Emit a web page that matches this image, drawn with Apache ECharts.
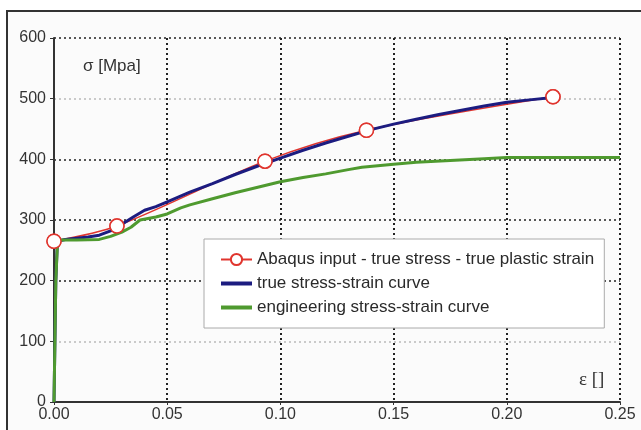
<!DOCTYPE html>
<html>
<head>
<meta charset="utf-8">
<script src="https://cdn.jsdelivr.net/npm/echarts@6/dist/echarts.min.js"></script>
<style>
  html, body { margin: 0; padding: 0; background: #fff; }
  #chart { width: 641px; height: 430px; }
</style>
</head>
<body>
<div id="chart"></div>
<script>
// Abaqus input points (true stress vs true plastic strain)
var abaqusStrain = [0, 0.0278, 0.0932, 0.138, 0.2204];
var abaqusStress = [265, 290, 397, 448, 503];

// true stress-strain curve
var trueStrain = [0, 0.0008, 0.0015, 0.005, 0.01, 0.015, 0.02, 0.025, 0.03, 0.035, 0.04, 0.045, 0.05, 0.06, 0.07, 0.08, 0.09, 0.1, 0.11, 0.12, 0.13, 0.14, 0.15, 0.16, 0.17, 0.18, 0.19, 0.2, 0.21, 0.2204];
var trueStress = [0, 200, 265, 268, 270, 272, 275, 282, 293, 305, 316, 322, 330, 346, 360, 375, 389, 402, 415, 427, 438, 449, 458, 466, 474, 481, 488, 494, 498, 502];

// engineering stress-strain curve
var engStrain = [0, 0.0008, 0.0015, 0.003, 0.01, 0.02, 0.025, 0.03, 0.034, 0.038, 0.045, 0.05, 0.056, 0.06, 0.07, 0.08, 0.09, 0.1, 0.11, 0.12, 0.13, 0.136, 0.15, 0.16, 0.175, 0.19, 0.2, 0.22, 0.25];
var engStress = [0, 200, 260, 267, 267, 268, 273, 280, 288, 300, 305, 310, 320, 325, 335, 345, 354, 363, 370, 376, 383, 387, 392, 395, 398, 401, 403, 403, 403];

var seriesNames = ['Abaqus input - true stress - true plastic strain', 'true stress-strain curve', 'engineering stress-strain curve'];

function pairs(xs, ys) {
  return xs.map(function (x, i) { return [x, ys[i]]; });
}

var chart = echarts.init(document.getElementById('chart'));
var font = 'Liberation Sans, Arial, sans-serif';
var noMarker = { color: 'transparent', borderWidth: 0 };

var option = {
  backgroundColor: '#fff',
  animation: false,
  grid: { left: 54, right: 21, top: 38, bottom: 28 },
  graphic: [
    {
      type: 'rect',
      z: -10,
      shape: { x: 7, y: 11, width: 700, height: 500 },
      style: { fill: '#fbfbfb', stroke: '#333', lineWidth: 2 }
    },
    {
      type: 'text',
      left: 83, top: 58,
      style: { text: 'σ [Mpa]', font: '17px ' + font, fill: '#333' }
    },
    {
      type: 'text',
      left: 579, top: 371,
      style: { text: 'ε []', font: '19px Liberation Serif, serif', fill: '#333' }
    }
  ],
  legend: {
    orient: 'vertical',
    left: 204,
    top: 239,
    padding: [12, 10, 12, 15],
    itemGap: 7,
    itemWidth: 31,
    itemHeight: 14,
    backgroundColor: '#fff',
    borderColor: '#aaa',
    borderWidth: 1,
    borderRadius: 0,
    textStyle: { fontSize: 17, fontFamily: font, color: '#2a2a2a' },
    data: [
      { name: seriesNames[0], lineStyle: { width: 2 } },
      { name: seriesNames[1], itemStyle: noMarker, lineStyle: { width: 4 } },
      { name: seriesNames[2], itemStyle: noMarker, lineStyle: { width: 4 } }
    ]
  },
  xAxis: {
    type: 'value',
    min: 0,
    max: 0.25,
    interval: 0.05,
    axisLine: { show: true, onZero: false, lineStyle: { color: '#333', width: 2 } },
    axisTick: { show: true, length: 3, lineStyle: { color: '#333' } },
    axisLabel: {
      margin: 5,
      fontSize: 16,
      fontFamily: font,
      color: '#333',
      formatter: function (v) { return v.toFixed(2); }
    },
    splitLine: { show: true, lineStyle: { color: '#222', width: 2, type: [2, 3] } }
  },
  yAxis: {
    type: 'value',
    min: 0,
    max: 600,
    interval: 100,
    axisLine: { show: true, onZero: false, lineStyle: { color: '#333', width: 2 } },
    axisTick: { show: true, length: 4, lineStyle: { color: '#333' } },
    axisLabel: { margin: 8, fontSize: 16, fontFamily: font, color: '#333' },
    splitLine: {
      show: true,
      lineStyle: {
        color: ['#222', '#bbb', '#222', '#222', '#222', '#bbb', '#222'],
        width: 1.5,
        type: [2, 3]
      }
    }
  },
  series: [
    {
      name: seriesNames[0],
      type: 'line',
      z: 1,
      smooth: 0.3,
      data: pairs(abaqusStrain, abaqusStress),
      symbol: 'circle',
      symbolSize: 14,
      itemStyle: { color: '#fff', borderColor: '#e0352e', borderWidth: 1.5 },
      lineStyle: { color: '#e0352e', width: 1.5 }
    },
    {
      name: seriesNames[1],
      type: 'line',
      z: 2,
      data: pairs(trueStrain, trueStress),
      showSymbol: false,
      symbol: 'none',
      itemStyle: { color: '#1c1c80' },
      lineStyle: { color: '#1c1c80', width: 3 }
    },
    {
      name: seriesNames[2],
      type: 'line',
      z: 3,
      data: pairs(engStrain, engStress),
      showSymbol: false,
      symbol: 'none',
      itemStyle: { color: '#4f9a2f' },
      lineStyle: { color: '#4f9a2f', width: 3 }
    },
    {
      type: 'scatter',
      z: 5,
      data: pairs(abaqusStrain, abaqusStress),
      symbol: 'circle',
      symbolSize: 14,
      itemStyle: { color: '#fff', borderColor: '#e0352e', borderWidth: 1.5, opacity: 1 }
    }
  ]
};

chart.setOption(option);
</script>
</body>
</html>
